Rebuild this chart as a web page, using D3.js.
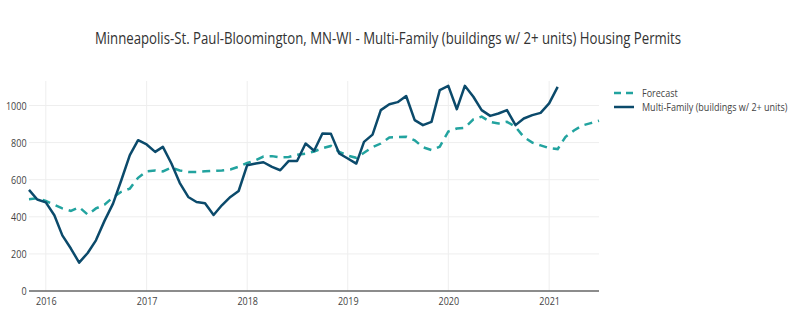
<!DOCTYPE html>
<html>
<head>
<meta charset="utf-8">
<script src="https://cdn.jsdelivr.net/npm/d3@7"></script>
<style>
  html, body { margin: 0; padding: 0; background: #fff; }
  svg { display: block; font-family: "Open Sans", sans-serif; }
</style>
</head>
<body>
<svg id="chart" width="800" height="322"></svg>
<script>
const title = "Minneapolis-St. Paul-Bloomington, MN-WI - Multi-Family (buildings w/ 2+ units) Housing Permits";
const seriesNames = ["Forecast", "Multi-Family (buildings w/ 2+ units)"];
const actualStart = "2015-11";
const forecastStart = "2015-11";
const actualValues = [
  545, 493,
  478, 408, 300, 229, 153, 205, 273, 378, 471, 597, 732, 813,
  790, 750, 777, 687, 583, 507, 480, 473, 410, 462, 507, 539,
  678, 687, 694, 669, 651, 701, 701, 795, 756, 849, 847, 741,
  714, 687, 804, 843, 975, 1007, 1018, 1051, 921, 894, 912, 1083,
  1106, 980, 1106, 1047, 975, 944, 957, 975, 894, 930, 948, 960,
  1011, 1100
];
const forecastValues = [
  495, 500,
  485, 465, 445, 432, 452, 412, 445, 465, 505, 535, 552, 610,
  645, 650, 645, 665, 650, 642, 642, 645, 648, 650, 655, 670,
  690, 705, 725, 727, 720, 722, 735, 740, 752, 770, 782, 750,
  730, 718, 745, 775, 795, 828, 830, 832, 812, 775, 760, 778,
  860, 876, 880, 925, 940, 912, 903, 912, 885, 830, 800, 785,
  770, 765, 830, 865, 892, 905, 918
];
const yTicks = [0, 200, 400, 600, 800, 1000];
const xTickYears = [2016, 2017, 2018, 2019, 2020, 2021];

const parse = d3.timeParse("%Y-%m");
function toSeries(start, vals) {
  const s = parse(start);
  return vals.map((v, i) => ({ date: d3.timeMonth.offset(s, i), value: v }));
}
const actual = toSeries(actualStart, actualValues);
const forecast = toSeries(forecastStart, forecastValues);

const svg = d3.select("#chart");
const plot = { left: 29, right: 599, top: 81, bottom: 291 };
const squeeze = 0.82; // horizontal glyph compression seen in the reference

const x = d3.scaleTime()
  .domain([forecast[0].date, forecast[forecast.length - 1].date])
  .range([plot.left, plot.right]);
const y = d3.scaleLinear().domain([0, 1132]).range([plot.bottom, plot.top]);

const textColor = "#444";

// grid
const xTicks = xTickYears.map(yr => new Date(yr, 0, 1));
svg.append("g").selectAll("line").data(xTicks).join("line")
  .attr("x1", d => x(d)).attr("x2", d => x(d))
  .attr("y1", plot.top).attr("y2", plot.bottom)
  .attr("stroke", "#eee").attr("stroke-width", 1);
svg.append("g").selectAll("line").data(yTicks.filter(d => d > 0)).join("line")
  .attr("x1", plot.left).attr("x2", plot.right)
  .attr("y1", d => y(d)).attr("y2", d => y(d))
  .attr("stroke", "#eee").attr("stroke-width", 1);

// axes
const xAxis = d3.axisBottom(x).tickValues(xTicks).tickFormat(d3.timeFormat("%Y")).tickSize(0).tickPadding(6);
const gx = svg.append("g").attr("transform", `translate(0,${plot.bottom})`).call(xAxis);
gx.select(".domain").remove();
gx.selectAll("text").attr("fill", textColor)
  .attr("transform", `scale(${squeeze},1)`)
  .style("font-size", "11px").style("font-family", "Open Sans");

const yAxis = d3.axisLeft(y).tickValues(yTicks).tickFormat(d3.format("d")).tickSize(0).tickPadding(3);
const gy = svg.append("g").attr("transform", `translate(${plot.left},0)`).call(yAxis);
gy.select(".domain").remove();
gy.selectAll("text").attr("fill", textColor)
  .attr("transform", `scale(${squeeze},1)`)
  .style("font-size", "11px").style("font-family", "Open Sans");

// zero line
svg.append("line")
  .attr("x1", plot.left).attr("x2", plot.right)
  .attr("y1", y(0)).attr("y2", y(0))
  .attr("stroke", "#666").attr("stroke-width", 1.5);

const line = d3.line().x(d => x(d.date)).y(d => y(d.value));

const forecastColor = "#22a39f";
const actualColor = "#0b4a6b";

svg.append("path").datum(forecast)
  .attr("d", line).attr("fill", "none")
  .attr("stroke", forecastColor).attr("stroke-width", 2.5)
  .attr("stroke-dasharray", "8,6");

svg.append("path").datum(actual)
  .attr("d", line).attr("fill", "none")
  .attr("stroke", actualColor).attr("stroke-width", 2.5)
  .attr("stroke-linejoin", "round");

// title
svg.append("text")
  .attr("transform", `translate(388,44) scale(0.8,1)`)
  .attr("text-anchor", "middle")
  .attr("fill", "#333")
  .style("font-size", "16.5px")
  .style("font-family", "Open Sans")
  .text(title);

// legend
const legend = svg.append("g");
const legendItems = [
  { name: seriesNames[0], color: forecastColor, dash: "7,5", y: 93 },
  { name: seriesNames[1], color: actualColor, dash: null, y: 107 }
];
legendItems.forEach(it => {
  legend.append("line")
    .attr("x1", 614).attr("x2", 634).attr("y1", it.y).attr("y2", it.y)
    .attr("stroke", it.color).attr("stroke-width", 2.5)
    .attr("stroke-dasharray", it.dash);
  legend.append("text")
    .attr("transform", `translate(642,${it.y + 4}) scale(${squeeze},1)`)
    .attr("fill", textColor)
    .style("font-size", "11px")
    .style("font-family", "Open Sans")
    .text(it.name);
});
</script>
</body>
</html>
